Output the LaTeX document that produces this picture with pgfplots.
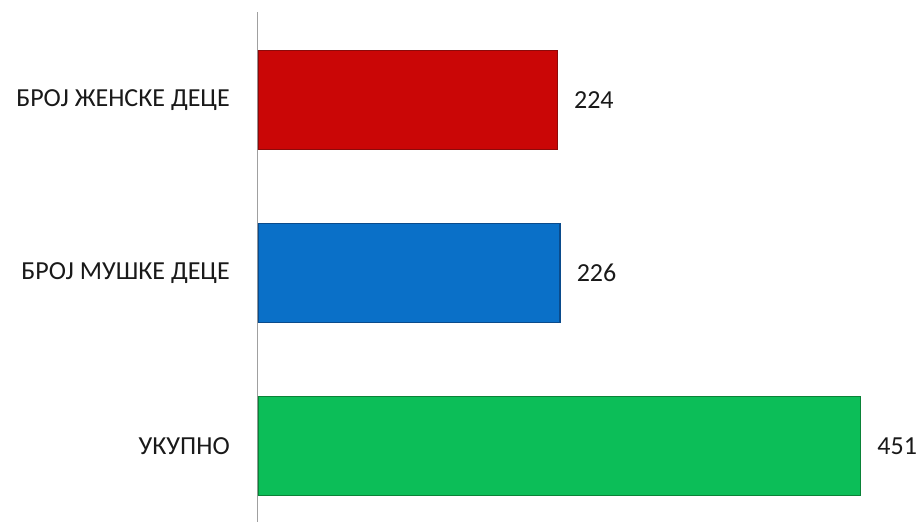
\documentclass[border=0pt]{standalone}
\usepackage{pgfplots}
\pgfplotsset{compat=1.18}
\usepackage{fontspec}
\setmainfont{Carlito}
\definecolor{bred}{RGB}{202,6,6}
\definecolor{bredd}{RGB}{140,10,10}
\definecolor{bblue}{RGB}{10,112,200}
\definecolor{bblued}{RGB}{10,75,140}
\definecolor{bgreen}{RGB}{12,190,88}
\definecolor{bgreend}{RGB}{10,130,55}
\begin{document}
\begin{tikzpicture}[x=1pt,y=1pt]
\begin{axis}[
  name=ax,
  at={(258pt,4pt)}, anchor=south west,
  scale only axis,
  width=659pt, height=510pt,
  xbar, bar width=99pt, bar shift=0pt,
  xmin=0, xmax=493,
  ymin=-0.439, ymax=2.509,
  axis x line=none,
  axis y line=left,
  axis line style={-, draw={rgb,255:red,160;green,160;blue,160}, line width=1pt},
  ytick={0,1,2},
  yticklabels={УКУПНО, БРОЈ МУШКЕ ДЕЦЕ, БРОЈ ЖЕНСКЕ ДЕЦЕ},
  ytick style={draw=none},
  major tick length=0pt,
  /pgf/number format/assume math mode=true,
  yticklabel style={anchor=east, inner sep=0pt, xshift=-28pt, font=\fontsize{26}{30}\selectfont, text=black!90},
  nodes near coords,
  every node near coord/.append style={anchor=west, inner sep=0pt, xshift=16pt, font=\fontsize{26}{30}\selectfont, text=black!90},
]
\addplot[fill=bred, draw=bredd, line width=1.5pt] coordinates {(224,2)};
\addplot[fill=bblue, draw=bblued, line width=1.5pt] coordinates {(226,1)};
\addplot[fill=bgreen, draw=bgreend, line width=1.5pt] coordinates {(451,0)};
\end{axis}
\path (0,0) rectangle (917pt,526pt);
\end{tikzpicture}
\end{document}
